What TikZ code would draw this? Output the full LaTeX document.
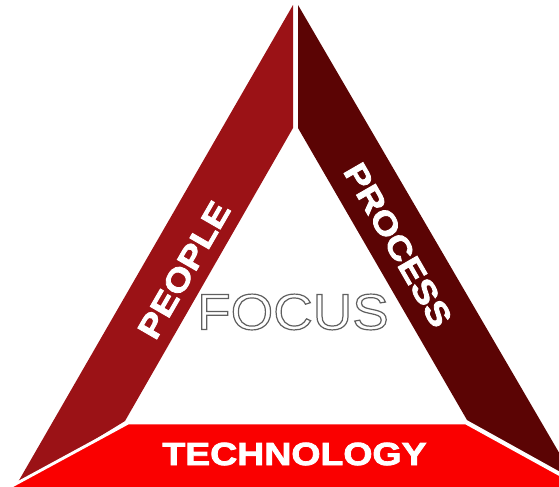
\documentclass[tikz,border=0pt]{standalone}
\usepackage{fontspec}
\setmainfont{Liberation Sans}[FakeStretch=1.08]
\newfontfamily\heavyfont{Liberation Sans Bold}[FakeBold=2.6,FakeStretch=1.17]
\newcommand\outlinetext[1]{\special{pdf:literal direct 1 Tr 0.9 w}#1\special{pdf:literal direct 0 Tr}}

\begin{document}
\begin{tikzpicture}[x=0.75pt,y=0.75pt,yscale=-1]
	%set diagram left start at 0, and has height of 486
	\useasboundingbox (0,0) rectangle (559,486);
	\clip (0,0) rectangle (559,486);
	
	%Shape: Polygon [id:dp_people_bar] 
	\draw  [draw opacity=0][fill={rgb, 255:red, 155; green, 18; blue, 22 }  ,fill opacity=1 ] (293,5) -- (293,128) -- (125,421) -- (14,489) -- cycle ;
	%Shape: Polygon [id:dp_process_bar] 
	\draw  [draw opacity=0][fill={rgb, 255:red, 91; green, 4; blue, 4 }  ,fill opacity=1 ] (298,5) -- (298,128) -- (467,420) -- (575,480) -- cycle ;
	%Shape: Polygon [id:dp_technology_bar] 
	\draw  [color={rgb, 255:red, 255; green, 255; blue, 255 }  ,line width=2.2 ][fill={rgb, 255:red, 250; green, 0; blue, 0 }  ,fill opacity=1 ] (10,487) -- (128,423) -- (466,423) -- (575,483) -- (575,495) -- (10,495) -- cycle ;
	
	% Text Node
	\node (technology) at (294.5,454) [inner sep=0pt]  [color={rgb, 255:red, 255; green, 255; blue, 255 }  ,opacity=1 ]  {\heavyfont\fontsize{24}{24}\selectfont TECHNOLOGY};
	% Text Node
	\node (people) at (184,270) [inner sep=0pt, rotate=60]  [color={rgb, 255:red, 255; green, 255; blue, 255 }  ,opacity=1 ]  {\heavyfont\fontsize{24}{24}\selectfont PEOPLE};
	% Text Node
	\node (process) at (398,245) [inner sep=0pt, rotate=-60]  [color={rgb, 255:red, 255; green, 255; blue, 255 }  ,opacity=1 ]  {\heavyfont\fontsize{24}{24}\selectfont PROCESS};
	% Text Node
	\node (focus) at (293,312) [inner sep=0pt]  [color={rgb, 255:red, 95; green, 95; blue, 95 }  ,opacity=1 ]  {\fontsize{38}{38}\selectfont\outlinetext{FOCUS}};
	
\end{tikzpicture}
\end{document}
